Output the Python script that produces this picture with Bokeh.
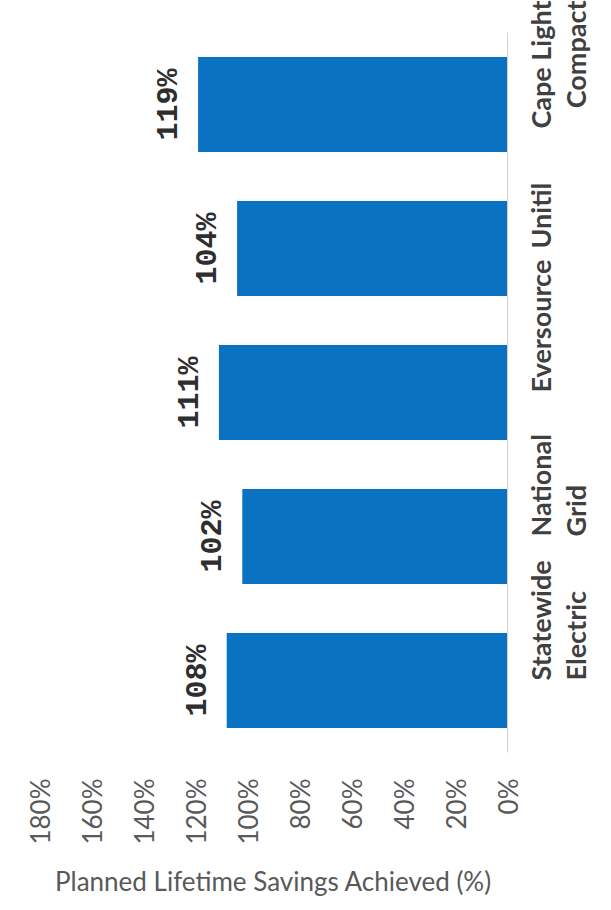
from math import pi
from bokeh.plotting import figure
from bokeh.models import (FactorRange, Range1d, FixedTicker,
                          PrintfTickFormatter, CategoricalAxis, CustomJSTickFormatter)
from bokeh.core.properties import value
from bokeh.embed import file_html
from bokeh.resources import INLINE

# ---- data ----
categories = ["Statewide Electric", "National Grid", "Eversource", "Unitil", "Cape Light Compact"]
label_line1 = ["Statewide", "National", "Eversource", "Unitil", "Cape Light"]
label_line2 = ["Electric", "Grid", "", "", "Compact"]
savings_pct = [108, 102, 111, 104, 119]
bar_labels = ["108%", "102%", "111%", "104%", "119%"]
value_ticks = [0, 20, 40, 60, 80, 100, 120, 140, 160, 180]
axis_title = "Planned Lifetime Savings Achieved (%)"

BLUE = "#0B72C2"

p = figure(width=611, height=900,
           y_range=FactorRange(*categories),
           x_range=Range1d(180, 0),
           output_backend="svg", toolbar_location=None,
           x_axis_location="below", y_axis_location=None,
           min_border_left=39, min_border_right=98,
           min_border_top=32, min_border_bottom=148)
p.outline_line_color = None
p.xgrid.visible = False
p.ygrid.visible = False

p.hbar(y=categories, right=savings_pct, left=0, height=0.66,
       fill_color=BLUE, line_color=None)

p.text(x=savings_pct, y=categories, text=bar_labels, angle=pi / 2,
       x_offset=-29, text_align="center", text_baseline="middle",
       text_font=value("Liberation Mono"), text_font_style="bold",
       text_font_size="30px", text_color="#2e2e2e")

# value axis (bottom)
xa = p.xaxis[0]
xa.ticker = FixedTicker(ticks=value_ticks)
xa.formatter = PrintfTickFormatter(format="%d%%")
xa.major_label_orientation = pi / 2
xa.major_label_standoff = 20
xa.major_label_text_font = "Lato"
xa.major_label_text_font_size = "26px"
xa.major_label_text_color = "#595959"
xa.axis_line_color = None
xa.major_tick_line_color = None
xa.minor_tick_line_color = None
xa.axis_label = axis_title
xa.axis_label_text_font = "Lato"
xa.axis_label_text_font_style = "normal"
xa.axis_label_text_font_size = "26px"
xa.axis_label_text_color = "#595959"
xa.axis_label_standoff = 17

# category axes (right): first and second line of each label
code = "const i = names.indexOf(tick); return i >= 0 ? lines[i] : String(tick);"
common = dict(major_label_orientation=pi / 2,
              major_label_text_font="Lato",
              major_label_text_font_style="bold",
              major_label_text_font_size="27px",
              major_label_text_color="#404040",
              major_tick_line_color=None,
              minor_tick_line_color=None)
cat_axis1 = CategoricalAxis(formatter=CustomJSTickFormatter(
                                args=dict(names=categories, lines=label_line1), code=code),
                            major_label_standoff=27, axis_line_color="#d0d0d0", **common)
cat_axis2 = CategoricalAxis(formatter=CustomJSTickFormatter(
                                args=dict(names=categories, lines=label_line2), code=code),
                            major_label_standoff=-7, axis_line_color=None, **common)
p.add_layout(cat_axis1, "right")
p.add_layout(cat_axis2, "right")

open("out.html", "w").write(file_html(p, INLINE))
